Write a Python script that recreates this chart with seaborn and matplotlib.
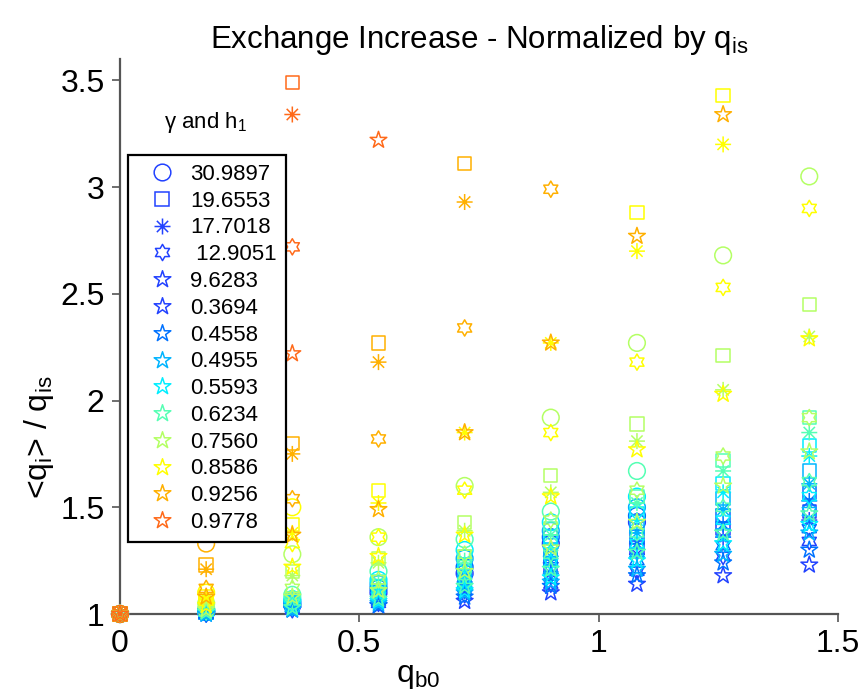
import numpy as np
import pandas as pd
import matplotlib
matplotlib.use("Agg")
import matplotlib.pyplot as plt
import seaborn as sns
from matplotlib.path import Path
from matplotlib.lines import Line2D

nan = np.nan

# ---------------- data ----------------
x_vals = [0, 0.18, 0.36, 0.54, 0.72, 0.90, 1.08, 1.26, 1.44]
gamma_labels = ["30.9897", "19.6553", "17.7018", " 12.9051", "9.6283"]
h1_labels = ["0.3694", "0.4558", "0.4955", "0.5593", "0.6234",
             "0.7560", "0.8586", "0.9256", "0.9778"]

# rows follow h1_labels, columns follow x_vals
circle_vals = [
    [1, 1.01, 1.04, 1.10, 1.19, 1.33, 1.43, nan, nan],
    [1, 1.01, 1.05, 1.12, 1.22, 1.36, 1.46, nan, nan],
    [1, 1.01, 1.06, 1.14, 1.26, 1.39, 1.50, nan, nan],
    [1, 1.02, 1.07, 1.16, 1.30, 1.43, 1.55, nan, nan],
    [1, 1.02, 1.09, 1.20, 1.35, 1.48, 1.67, nan, nan],
    [1, 1.05, 1.28, 1.36, 1.60, 1.92, 2.27, 2.68, 3.05],
    [1, 1.10, 1.50, nan, nan, nan, nan, nan, nan],
    [1, 1.33, nan, nan, nan, nan, nan, nan, nan],
    [1, 2.10, nan, nan, nan, nan, nan, nan, nan],
]
square_vals = [
    [1, 1.01, 1.03, 1.08, 1.14, 1.22, 1.31, 1.40, 1.48],
    [1, 1.01, 1.04, 1.09, 1.17, 1.26, 1.36, 1.46, 1.57],
    [1, 1.01, 1.05, 1.11, 1.20, 1.30, 1.41, 1.54, 1.67],
    [1, 1.02, 1.06, 1.13, 1.23, 1.34, 1.47, 1.61, 1.79],
    [1, 1.02, 1.07, 1.15, 1.27, 1.40, 1.55, 1.72, 1.92],
    [1, 1.04, 1.20, 1.26, 1.43, 1.65, 1.89, 2.21, 2.45],
    [1, 1.08, 1.42, 1.58, nan, nan, 2.88, 3.43, nan],
    [1, 1.23, 1.80, 2.27, 3.11, nan, nan, nan, nan],
    [1, 1.80, 3.49, nan, nan, nan, nan, nan, nan],
]
asterisk_vals = [
    [1, 1.00, 1.03, 1.07, 1.12, 1.19, 1.28, 1.36, 1.44],
    [1, 1.01, 1.04, 1.08, 1.15, 1.24, 1.33, 1.42, 1.53],
    [1, 1.01, 1.04, 1.10, 1.18, 1.27, 1.38, 1.49, 1.61],
    [1, 1.01, 1.05, 1.12, 1.21, 1.31, 1.44, 1.57, 1.74],
    [1, 1.02, 1.06, 1.14, 1.25, 1.37, 1.52, 1.67, 1.85],
    [1, 1.03, 1.18, 1.24, 1.39, 1.57, 1.81, 2.05, 2.30],
    [1, 1.07, 1.38, 1.52, 1.85, 2.27, 2.70, 3.20, nan],
    [1, 1.21, 1.75, 2.18, 2.93, nan, nan, nan, nan],
    [1, 1.72, 3.34, nan, nan, nan, nan, nan, nan],
]
hexagram_vals = [
    [1, 1.00, 1.02, 1.05, 1.09, 1.14, 1.20, 1.27, 1.34],
    [1, 1.00, 1.03, 1.06, 1.11, 1.18, 1.25, 1.32, 1.40],
    [1, 1.01, 1.03, 1.07, 1.13, 1.21, 1.29, 1.38, 1.48],
    [1, 1.01, 1.04, 1.08, 1.15, 1.24, 1.33, 1.44, 1.55],
    [1, 1.01, 1.05, 1.10, 1.18, 1.28, 1.38, 1.50, 1.62],
    [1, 1.02, 1.12, 1.16, 1.28, 1.44, 1.58, 1.74, 1.92],
    [1, 1.06, 1.33, 1.36, 1.58, 1.85, 2.18, 2.53, 2.90],
    [1, 1.12, 1.54, 1.82, 2.34, 2.99, nan, nan, nan],
    [1, 1.55, 2.72, nan, nan, nan, nan, nan, nan],
]
pentagram_vals = [
    [1, 1.01, 1.02, 1.04, 1.06, 1.10, 1.14, 1.18, 1.23],
    [1, 1.00, 1.02, 1.04, 1.08, 1.13, 1.18, 1.24, 1.30],
    [1, 1.00, 1.02, 1.05, 1.10, 1.15, 1.21, 1.28, 1.38],
    [1, 1.01, 1.03, 1.06, 1.11, 1.17, 1.25, 1.33, 1.42],
    [1, 1.01, 1.03, 1.07, 1.13, 1.21, 1.29, 1.38, 1.47],
    [1, 1.02, 1.08, 1.11, 1.20, 1.31, 1.43, 1.60, 1.76],
    [1, 1.04, 1.22, 1.27, 1.37, 1.55, 1.77, 2.03, 2.29],
    [1, 1.08, 1.37, 1.49, 1.85, 2.27, 2.77, 3.34, nan],
    [1, 1.45, 2.22, 3.22, nan, nan, nan, nan, nan],
]

x_tick_vals = [0, 0.5, 1, 1.5]
x_tick_labels = ["0", "0.5", "1", "1.5"]
y_tick_vals = [1, 1.5, 2, 2.5, 3, 3.5]
y_tick_labels = ["1", "1.5", "2", "2.5", "3", "3.5"]

# ---------------- styles ----------------
h1_colors = ["#2242ff", "#0072ff", "#00b4ff", "#00eeff", "#55ffb4",
             "#b4ff64", "#ffff00", "#ffb000", "#ff6a1a"]

penta = Path.unit_regular_star(5, 0.381966)
hexa = Path.unit_regular_star(6, 0.57735)
_av, _ac = [], []
for a in np.deg2rad([0, 45, 90, 135]):
    _av += [(np.cos(a), np.sin(a)), (-np.cos(a), -np.sin(a))]
    _ac += [Path.MOVETO, Path.LINETO]
aster = Path(_av, _ac)

shape_markers = ["o", "s", aster, hexa, penta]
shape_sizes = [12.0, 9.6, 11.5, 11.7, 12.6]   # marker sizes in points
shape_tables = [circle_vals, square_vals, asterisk_vals, hexagram_vals, pentagram_vals]

sns.set_theme(style="white")
plt.rcParams["font.family"] = ["Liberation Sans", "DejaVu Sans"]
plt.rcParams["mathtext.default"] = "regular"
plt.rcParams["text.color"] = "black"
plt.rcParams["axes.labelcolor"] = "black"
plt.rcParams["xtick.color"] = "black"
plt.rcParams["ytick.color"] = "black"

fig = plt.figure(figsize=(8.63, 6.99), dpi=100)
ax = fig.add_axes([120 / 863, 1 - 614 / 699, 718 / 863, 555 / 699])

palette = dict(zip(h1_labels, h1_colors))

for table, mk, ms in zip(shape_tables, shape_markers, shape_sizes):
    rows = []
    for lab, vals in zip(h1_labels, table):
        for xv, yv in zip(x_vals, vals):
            rows.append((lab, xv, yv))
    df = pd.DataFrame(rows, columns=["h1", "x", "y"]).dropna()
    sns.scatterplot(data=df, x="x", y="y", hue="h1", hue_order=h1_labels,
                    palette=palette, marker=mk, s=ms ** 2, ax=ax,
                    legend=False, clip_on=False, zorder=3)
    coll = ax.collections[-1]
    fc = coll.get_facecolors()
    coll.set_edgecolors(fc)
    coll.set_facecolors("none")
    coll.set_linewidths(1.1)

ax.set_xlim(0, 1.5)
ax.set_ylim(1, 3.6)
ax.set_xticks(x_tick_vals)
ax.set_xticklabels(x_tick_labels)
ax.set_yticks(y_tick_vals)
ax.set_yticklabels(y_tick_labels)
ax.tick_params(bottom=True, left=True, direction="out", length=6, width=1.2,
               color="#555555", labelsize=23, pad=5)
for side in ["top", "right"]:
    ax.spines[side].set_visible(False)
for side in ["left", "bottom"]:
    ax.spines[side].set_color("#555555")
    ax.spines[side].set_linewidth(1.6)
ax.grid(False)

ax.set_title("Exchange Increase - Normalized by $q_{is}$", fontsize=22.5, pad=8)
ax.set_xlabel("$q_{b0}$", fontsize=23)
ax.xaxis.label.set_va("baseline")
ax.xaxis.set_label_coords((418 - 120) / 718, (614 - 682) / 555)
ax.set_ylabel("<$q_i$> / $q_{is}$", fontsize=23)
ax.yaxis.label.set_va("bottom")
ax.yaxis.set_label_coords((56 - 120) / 718, (614 - 437) / 555)

handles = []
for lab, mk, ms in zip(gamma_labels, shape_markers, shape_sizes):
    handles.append(Line2D([], [], ls="none", marker=mk, markersize=ms, mfc="none",
                          mec=h1_colors[0], mew=1.1, label=lab))
for lab, col in zip(h1_labels, h1_colors):
    handles.append(Line2D([], [], ls="none", marker=penta, markersize=shape_sizes[4],
                          mfc="none", mec=col, mew=1.1, label=lab))
leg = ax.legend(handles=handles, loc="upper left",
                bbox_to_anchor=((128 - 120) / 718, (614 - 155) / 555),
                bbox_transform=ax.transAxes, borderaxespad=0, frameon=True,
                fancybox=False, edgecolor="black", facecolor="white", framealpha=1,
                fontsize=16, handlelength=2.26, handletextpad=0.13,
                labelspacing=0.26, borderpad=0.4)
leg.get_frame().set_linewidth(1.6)
leg.set_zorder(5)

fig.text(205 / 863, 1 - 128 / 699, "γ and $h_1$", fontsize=16,
         ha="center", va="baseline")

fig.savefig("out.png", dpi=100)
